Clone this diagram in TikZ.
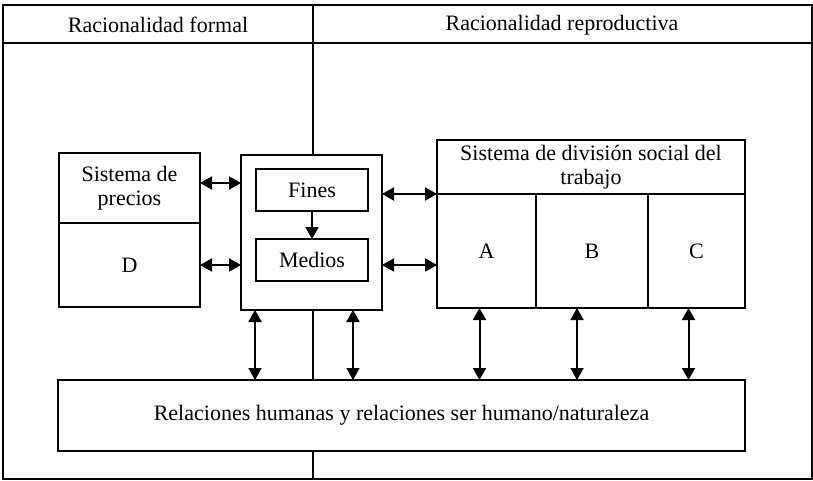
\documentclass[tikz,border=0pt]{standalone}
\usepackage{fontspec}
\setmainfont{Liberation Serif}
\usetikzlibrary{positioning, arrows.meta}

\begin{document}
\begin{tikzpicture}[
    x=1pt, y=-1pt,
    >={Triangle[length=12pt, width=13pt]},
    box/.style={rectangle, draw, fill=white, line width=2pt, outer sep=0pt,
        inner sep=2pt, align=center, font=\fontsize{22}{24}\selectfont},
    link/.style={<->, line width=2pt},
    headtext/.style={font=\fontsize{22}{24}\selectfont},
]
\useasboundingbox (0,0) rectangle (813,481);

% ── Frame and the two columns ──
\draw[line width=1.6pt] (3,5) rectangle (812,479);
\draw[line width=1.6pt] (3,43) -- (812,43);
\draw[line width=1.6pt] (313,5) -- (313,479);
\node[headtext] (formal) at (158,25) {Racionalidad formal};
\node[headtext] (reprod) at (562,25) {Racionalidad reproductiva};

% ══════════════════════════════════════════════
% Left: price system
% ══════════════════════════════════════════════
\node[box, minimum width=141pt, minimum height=70pt] (precios) at (129.5,188)
    {Sistema de\\precios};
\node[box, minimum width=141pt, minimum height=84pt, below=0pt of precios] (dbox) {D};

% ══════════════════════════════════════════════
% Middle: ends and means
% ══════════════════════════════════════════════
\node[box, minimum width=141pt, minimum height=155pt] (mid) at (311.5,232.5) {};
\node[box, minimum width=112pt, minimum height=42pt] (fines) at (312,190) {Fines};
\node[box, minimum width=112pt, minimum height=42pt] (medios) at (312,260) {Medios};
\draw[->, line width=2pt] (fines) -- (medios);

% ══════════════════════════════════════════════
% Right: social division of labour
% ══════════════════════════════════════════════
\node[box, minimum width=99pt, minimum height=114pt] (boxA) at (486.5,251) {A};
\node[box, minimum width=112pt, minimum height=114pt, right=0pt of boxA] (boxB) {B};
\node[box, minimum width=97pt, minimum height=114pt, right=0pt of boxB] (boxC) {C};
\node[box, minimum width=308pt, minimum height=54pt, anchor=south west]
    (division) at (boxA.north west) {Sistema de división social del\\trabajo};

% ══════════════════════════════════════════════
% Bottom: human relations
% ══════════════════════════════════════════════
\node[box, minimum width=687pt, minimum height=71pt] (rel) at (401.5,415.5)
    {Relaciones humanas y relaciones ser humano/naturaleza};

% ── Horizontal links ──
\draw[link] ([yshift=5pt]precios.east) -- ([yshift=5pt]precios.east -| mid.west);
\draw[link] (dbox.east) -- (dbox.east -| mid.west);
\draw[link] (mid.east |- division.south) -- (division.south west);
\draw[link] (dbox.east -| mid.east) -- (dbox.east -| boxA.west);

% ── Vertical links to the bottom box ──
\draw[link] ([xshift=-56.5pt]mid.south) -- ([xshift=-56.5pt]mid.south |- rel.north);
\draw[link] ([xshift=41.5pt]mid.south) -- ([xshift=41.5pt]mid.south |- rel.north);
\draw[link] ([xshift=-7pt]boxA.south) -- ([xshift=-7pt]boxA.south |- rel.north);
\draw[link] ([xshift=-15pt]boxB.south) -- ([xshift=-15pt]boxB.south |- rel.north);
\draw[link] ([xshift=-8pt]boxC.south) -- ([xshift=-8pt]boxC.south |- rel.north);

\end{tikzpicture}
\end{document}
